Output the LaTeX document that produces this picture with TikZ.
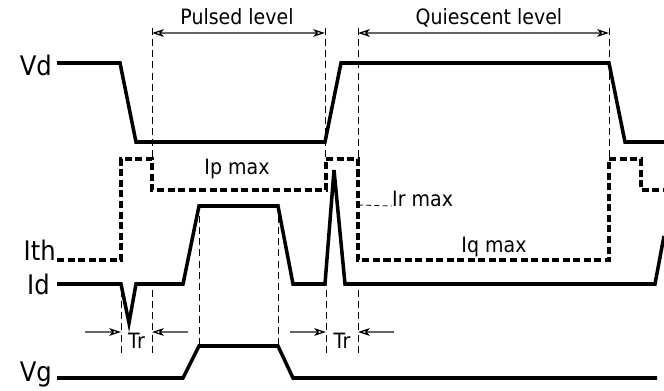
\documentclass[tikz,border=0pt]{standalone}
\usepackage{fontspec}
\setmainfont{DejaVu Sans}[FakeStretch=0.9]
\usetikzlibrary{arrows.meta}
\usetikzlibrary{calc}

\tikzset{
  wave/.style={line width=3pt, line join=miter},
  thresh/.style={line width=2.8pt, dash pattern=on 6pt off 3pt},
  guide/.style={line width=0.7pt, dash pattern=on 6pt off 3.5pt},
  dimline/.style={line width=1.1pt, black!60, >={Stealth[open, length=10pt, width=6.5pt, inset=2.5pt, black]}},
  signame/.style={font=\fontsize{23}{25}\selectfont, anchor=base east, inner sep=0pt},
  small/.style={font=\fontsize{18}{20}\selectfont, anchor=base, inner sep=0pt}
}

\begin{document}
\begin{tikzpicture}[x=0.03cm, y=-0.03cm]
    \useasboundingbox (0,0) rectangle (664,391);

    % signal names
    \node[signame] (vd) at (52,75) {Vd};
    \node[signame] (ith) at (56,260) {Ith};
    \node[signame] (id) at (50,294) {Id};
    \node[signame] (vg) at (52,381) {Vg};

    % guides
    \coordinate (P1) at (152,28);
    \coordinate (P2) at (325,28);
    \coordinate (Q1) at (358,28);
    \coordinate (Q2) at (609,28);
    \draw[guide] (P1) -- (152,159);
    \draw[guide] (P2) -- (325,159);
    \draw[guide] (Q1) -- (358,159);
    \draw[guide] (Q2) -- (609,159);
    \draw[guide] (121,290) -- (121,353);
    \draw[guide] (152,290) -- (152,353);
    \draw[guide] (326,290) -- (326,353);
    \draw[guide] (358,290) -- (358,353);
    \draw[guide] (199,216) -- (199,345);
    \draw[guide] (278,216) -- (278,345);

    % waveforms
    \draw[wave] (vd.east |- 0,63) ++(5,0) -- (120,63) -- (136,142) -- (325,142) -- (341,63) -- (609,63) -- (625,142) -- (664,142);
    \draw[thresh] (ith.east |- 0,260) ++(1,0) -- (121,260) -- (121,159) -- (152,159) -- (152,190) -- (326,190) -- (326,159)
        -- (358,159) -- (358,260) -- (609,260) -- (609,159) -- (641,159) -- (641,190) -- (664,190);
    \draw[wave] (id.east |- 0,284) ++(7,0) -- (121,284) -- (129,323) -- (136,284) -- (183,284) -- (199,206) -- (278,206)
        -- (293,284) -- (325,284) -- (334,170) -- (345,284) -- (655,284) -- (664,236);
    \draw[wave] (vg.east |- 0,378) ++(5,0) -- (183,378) -- (199,346) -- (278,346) -- (293,378) -- (657,378);

    % levels
    \draw[dimline, <->] ($(P1)+(0,5)$) -- ($(P2)+(0,5)$);
    \node[small] (pulsed) at (237,24) {Pulsed level};
    \draw[dimline, <->] ($(Q1)+(0,5)$) -- ($(Q2)+(0,5)$);
    \node[small] (quiescent) at (489,24) {Quiescent level};

    \node[small] (ipmax) at (237,174) {Ip max};
    \node[small] (iqmax) at (494,252) {Iq max};
    \node[small, anchor=base west] (irmax) at (392,206) {Ir max};
    \draw[guide, dash pattern=on 4pt off 3pt] (358,205) -- (irmax.base west);

    % rise times
    \coordinate (T1) at (121,332);
    \coordinate (T2) at (152,332);
    \coordinate (T3) at (326,332);
    \coordinate (T4) at (358,332);
    \draw[dimline, ->] (85,332) -- (T1);
    \draw[dimline, ->] (188,332) -- (T2);
    \draw[dimline, ->] (290,332) -- (T3);
    \draw[dimline, ->] (394,332) -- (T4);
    \node[small] (tr1) at ($(T1)!0.5!(T2)+(0,16)$) {Tr};
    \node[small] (tr2) at ($(T3)!0.5!(T4)+(0,16)$) {Tr};
  \end{tikzpicture}
\end{document}
